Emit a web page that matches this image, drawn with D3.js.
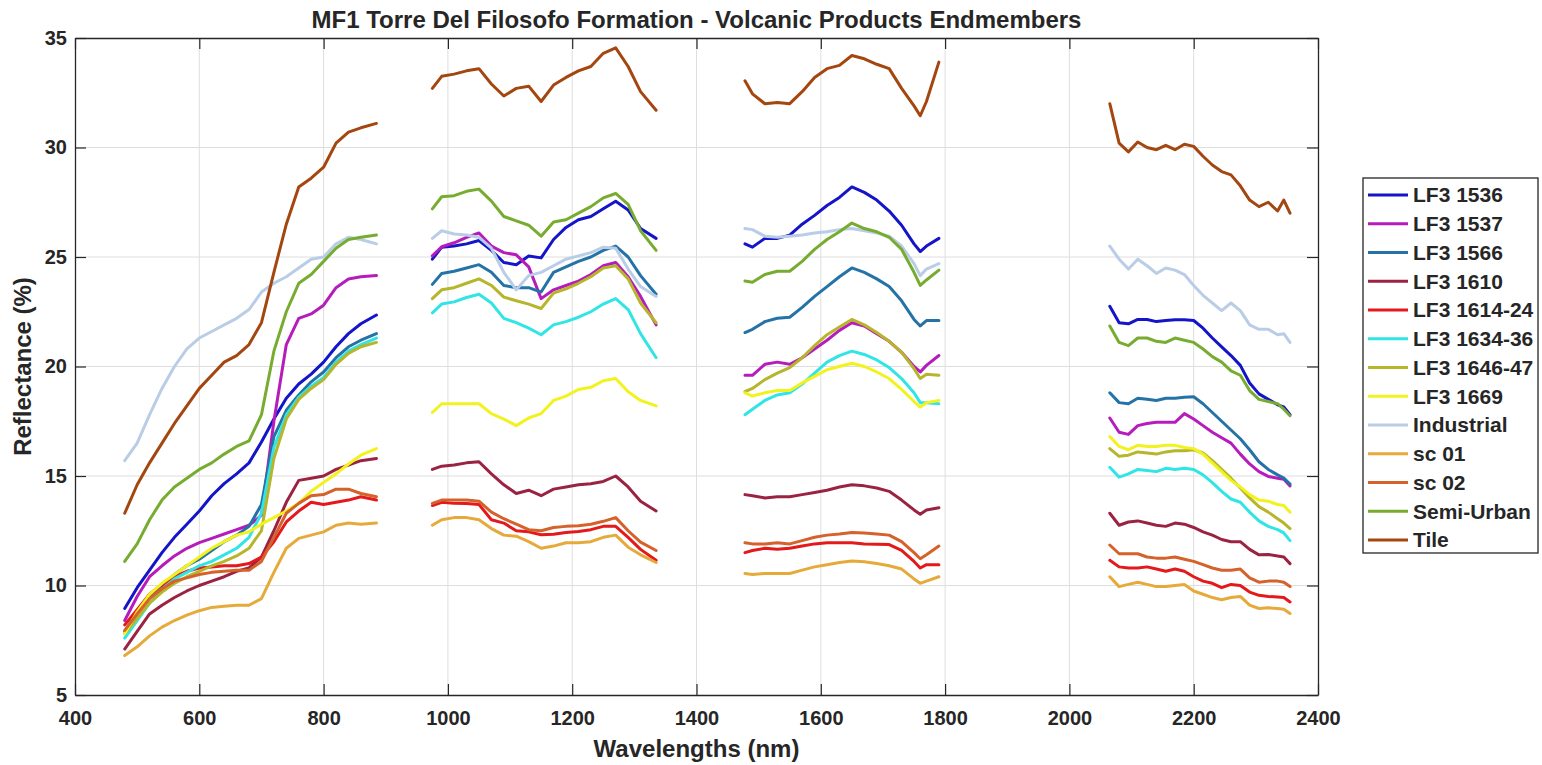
<!DOCTYPE html>
<html>
<head>
<meta charset="utf-8">
<script src="https://cdn.jsdelivr.net/npm/d3@7"></script>
<style>
  body { margin: 0; background: #fff; }
  text { font-family: "Liberation Sans", Arial, sans-serif; font-weight: bold; fill: #262626; }
</style>
</head>
<body>
<div id="chart"></div>
<script>
// wavelength samples of the four detector bands (nm)
const wl1 = [480,500,520,540,560,580,600,620,640,660,680,700,720,740,760,780,800,820,840,860,885];
const wl2 = [975,990,1010,1030,1050,1070,1090,1110,1130,1150,1170,1190,1210,1230,1250,1270,1290,1310,1335];
const wl3 = [1478,1490,1510,1530,1550,1570,1590,1610,1630,1650,1670,1690,1710,1730,1750,1760,1770,1790];
const wl4 = [2065,2080,2095,2110,2125,2140,2155,2170,2185,2200,2215,2230,2245,2260,2275,2290,2305,2320,2335,2345,2355];
const bands = [wl1, wl2, wl3, wl4];

// reflectance (%) per endmember, one array per band
const lf3_1536 = [
  [8.95,9.9,10.7,11.5,12.2,12.8,13.4,14.1,14.65,15.1,15.6,16.55,17.6,18.55,19.2,19.65,20.2,20.9,21.5,21.95,22.35],
  [24.9,25.45,25.5,25.6,25.75,25.3,24.75,24.65,25.05,24.96,25.8,26.35,26.7,26.85,27.2,27.55,27.15,26.3,25.85],
  [25.6,25.45,25.85,25.85,26.0,26.5,26.9,27.35,27.72,28.2,27.95,27.6,27.1,26.45,25.6,25.25,25.5,25.85],
  [22.75,22.0,21.95,22.15,22.15,22.05,22.1,22.14,22.14,22.1,21.75,21.3,20.9,20.5,20.05,19.25,18.75,18.5,18.25,18.15,17.8]
];
const lf3_1537 = [
  [8.4,9.5,10.4,10.9,11.35,11.7,11.96,12.15,12.35,12.55,12.75,13.2,17.5,21.0,22.2,22.4,22.8,23.6,24.0,24.1,24.15],
  [25.05,25.47,25.65,25.9,26.1,25.5,25.2,25.1,24.55,23.1,23.5,23.7,23.9,24.2,24.6,24.75,24.1,23.2,21.9],
  [19.6,19.6,20.1,20.2,20.1,20.4,20.8,21.2,21.65,22.0,21.85,21.5,21.15,20.65,20.0,19.75,20.05,20.5],
  [17.65,17.0,16.9,17.3,17.4,17.45,17.45,17.45,17.85,17.6,17.3,17.0,16.75,16.5,16.0,15.55,15.2,14.98,14.9,14.85,14.55]
];
const lf3_1566 = [
  [7.9,8.8,9.5,10.0,10.5,10.9,11.2,11.6,12.0,12.3,12.7,13.7,16.8,18.0,18.7,19.3,19.75,20.4,20.9,21.2,21.5],
  [23.75,24.25,24.35,24.5,24.65,24.3,23.7,23.6,23.6,23.4,24.3,24.55,24.8,25.0,25.3,25.5,25.0,24.15,23.3],
  [21.55,21.7,22.05,22.2,22.25,22.7,23.2,23.65,24.1,24.5,24.3,24.0,23.65,23.0,22.15,21.85,22.1,22.1],
  [18.8,18.35,18.3,18.55,18.5,18.45,18.55,18.55,18.6,18.62,18.3,17.9,17.5,17.1,16.7,16.2,15.65,15.3,15.05,14.9,14.63]
];
const lf3_1610 = [
  [7.1,7.9,8.7,9.1,9.45,9.75,10.0,10.2,10.4,10.65,10.8,11.3,12.5,13.8,14.8,14.9,15.0,15.3,15.5,15.7,15.8],
  [15.3,15.45,15.5,15.6,15.65,15.1,14.6,14.2,14.35,14.1,14.4,14.5,14.6,14.65,14.75,15.0,14.5,13.85,13.4],
  [14.15,14.1,14.0,14.05,14.05,14.15,14.25,14.35,14.5,14.6,14.55,14.45,14.3,13.9,13.45,13.25,13.45,13.55],
  [13.3,12.75,12.9,12.95,12.85,12.75,12.7,12.85,12.8,12.65,12.45,12.3,12.1,12.0,12.0,11.65,11.4,11.42,11.35,11.3,11.0]
];
const lf3_1614_24 = [
  [8.2,8.9,9.6,10.05,10.4,10.65,10.8,10.85,10.9,10.9,11.0,11.3,12.0,12.9,13.4,13.8,13.7,13.8,13.9,14.05,13.9],
  [13.65,13.8,13.75,13.74,13.7,13.0,12.85,12.5,12.45,12.32,12.34,12.42,12.47,12.55,12.7,12.7,12.2,11.65,11.15],
  [11.5,11.6,11.7,11.65,11.7,11.8,11.9,11.95,11.95,11.95,11.9,11.88,11.87,11.6,11.1,10.8,10.95,10.95],
  [11.15,10.85,10.8,10.8,10.85,10.75,10.65,10.75,10.65,10.4,10.2,10.1,9.9,10.05,10.0,9.7,9.55,9.5,9.47,9.45,9.25]
];
const lf3_1634_36 = [
  [7.6,8.4,9.2,9.8,10.3,10.6,10.9,11.1,11.4,11.7,12.2,13.3,16.3,17.8,18.6,19.1,19.5,20.2,20.7,21.0,21.3],
  [22.45,22.85,22.95,23.15,23.3,22.9,22.2,22.0,21.75,21.45,21.9,22.05,22.25,22.5,22.85,23.1,22.6,21.5,20.4],
  [17.8,18.05,18.45,18.7,18.8,19.2,19.7,20.2,20.5,20.7,20.55,20.3,19.95,19.45,18.8,18.35,18.35,18.3],
  [15.4,14.95,15.1,15.3,15.25,15.2,15.35,15.3,15.35,15.3,15.05,14.7,14.3,13.95,13.8,13.35,12.95,12.7,12.55,12.4,12.05]
];
const lf3_1646_47 = [
  [7.8,8.5,9.2,9.7,10.1,10.4,10.65,10.9,11.1,11.35,11.7,12.5,15.8,17.6,18.5,19.0,19.4,20.1,20.6,20.9,21.1],
  [23.1,23.5,23.6,23.8,24.0,23.7,23.17,23.0,22.85,22.65,23.35,23.55,23.8,24.1,24.5,24.6,24.0,22.9,22.0],
  [18.85,19.0,19.4,19.7,19.95,20.4,20.95,21.45,21.8,22.15,21.9,21.55,21.15,20.65,19.9,19.45,19.65,19.6],
  [16.25,15.9,15.95,16.1,16.05,16.0,16.1,16.15,16.15,16.2,16.05,15.7,15.3,14.9,14.45,14.0,13.6,13.35,13.05,12.85,12.6]
];
const lf3_1669 = [
  [7.8,8.8,9.6,10.1,10.5,10.9,11.3,11.7,12.0,12.3,12.45,12.8,13.1,13.4,13.75,14.3,14.7,15.1,15.55,15.95,16.25],
  [17.9,18.3,18.3,18.3,18.3,17.85,17.6,17.3,17.65,17.85,18.45,18.65,18.95,19.05,19.35,19.45,18.85,18.45,18.2],
  [18.8,18.65,18.8,18.9,18.9,19.25,19.55,19.85,20.0,20.15,20.0,19.75,19.45,18.95,18.4,18.15,18.35,18.45],
  [16.8,16.35,16.2,16.4,16.35,16.35,16.4,16.4,16.3,16.25,16.0,15.6,15.2,14.8,14.5,14.15,13.9,13.85,13.7,13.65,13.35]
];
const industrial = [
  [15.7,16.5,17.8,19.0,20.0,20.8,21.3,21.6,21.9,22.2,22.6,23.4,23.8,24.1,24.5,24.9,25.0,25.6,25.9,25.8,25.6],
  [25.85,26.2,26.05,26.0,25.9,25.4,24.3,23.5,24.15,24.3,24.6,24.9,25.05,25.2,25.45,25.4,24.45,23.65,23.2],
  [26.3,26.25,25.95,25.9,25.95,26.0,26.1,26.15,26.25,26.3,26.2,26.1,25.95,25.5,24.7,24.15,24.45,24.7],
  [25.5,24.9,24.45,24.9,24.6,24.25,24.5,24.4,24.2,23.7,23.25,22.9,22.55,22.9,22.55,21.9,21.7,21.7,21.45,21.5,21.1]
];
const sc01 = [
  [6.8,7.2,7.7,8.1,8.4,8.65,8.85,9.0,9.05,9.1,9.1,9.4,10.6,11.7,12.15,12.3,12.45,12.75,12.85,12.8,12.85],
  [12.75,13.0,13.1,13.1,13.0,12.6,12.3,12.25,12.0,11.7,11.8,11.95,11.95,12.0,12.2,12.3,11.75,11.4,11.05],
  [10.55,10.5,10.55,10.55,10.55,10.7,10.85,10.95,11.05,11.12,11.08,11.0,10.9,10.75,10.3,10.1,10.2,10.4],
  [10.4,9.95,10.05,10.15,10.05,9.95,9.95,10.0,10.05,9.75,9.6,9.45,9.35,9.45,9.5,9.1,8.95,8.98,8.95,8.92,8.72]
];
const sc02 = [
  [7.95,8.7,9.4,9.85,10.2,10.35,10.5,10.6,10.65,10.7,10.7,11.1,12.2,13.3,13.75,14.1,14.15,14.4,14.4,14.2,14.05],
  [13.75,13.9,13.9,13.9,13.85,13.35,13.05,12.8,12.55,12.5,12.65,12.7,12.73,12.8,12.93,13.1,12.5,11.98,11.6],
  [11.95,11.9,11.9,11.95,11.9,12.05,12.2,12.3,12.35,12.42,12.4,12.35,12.3,12.0,11.5,11.22,11.4,11.8],
  [11.85,11.45,11.45,11.45,11.3,11.25,11.25,11.3,11.2,11.1,10.95,10.8,10.7,10.7,10.75,10.35,10.15,10.2,10.2,10.15,9.95]
];
const semiUrban = [
  [11.1,11.9,13.0,13.9,14.5,14.9,15.3,15.6,16.0,16.35,16.6,17.8,20.7,22.5,23.8,24.2,24.8,25.4,25.8,25.9,26.0],
  [27.2,27.75,27.8,28.0,28.1,27.55,26.85,26.65,26.45,25.95,26.6,26.7,27.0,27.3,27.7,27.9,27.4,26.2,25.3],
  [23.9,23.85,24.2,24.35,24.35,24.8,25.35,25.8,26.15,26.55,26.3,26.15,25.9,25.35,24.3,23.7,23.95,24.4],
  [21.85,21.1,20.95,21.3,21.3,21.15,21.1,21.3,21.2,21.1,20.8,20.45,20.2,19.8,19.6,18.9,18.5,18.4,18.3,18.05,17.75]
];
const tile = [
  [13.3,14.6,15.6,16.5,17.4,18.2,19.0,19.6,20.2,20.5,21.0,22.0,24.3,26.5,28.2,28.6,29.1,30.2,30.7,30.9,31.1],
  [32.7,33.25,33.35,33.5,33.6,32.9,32.35,32.7,32.8,32.1,32.85,33.2,33.5,33.7,34.3,34.55,33.7,32.55,31.7],
  [33.05,32.45,32.0,32.05,32.0,32.55,33.2,33.6,33.75,34.2,34.05,33.8,33.6,32.7,31.9,31.45,32.1,33.9],
  [32.0,30.2,29.8,30.25,30.0,29.9,30.1,29.9,30.15,30.05,29.6,29.2,28.9,28.75,28.25,27.6,27.3,27.5,27.1,27.6,27.0]
];

const names = ["LF3 1536", "LF3 1537", "LF3 1566", "LF3 1610", "LF3 1614-24", "LF3 1634-36",
  "LF3 1646-47", "LF3 1669", "Industrial", "sc 01", "sc 02", "Semi-Urban", "Tile"];
const values = [lf3_1536, lf3_1537, lf3_1566, lf3_1610, lf3_1614_24, lf3_1634_36,
  lf3_1646_47, lf3_1669, industrial, sc01, sc02, semiUrban, tile];
const colors = ["#1414c8", "#b51cbb", "#2472a6", "#9b2342", "#e3191b", "#31e4e6",
  "#b6b52b", "#f2f21f", "#b9cde6", "#e6aa3b", "#d5612b", "#77ac30", "#a4460f"];

const xTicks = d3.range(400, 2401, 200);
const yTicks = d3.range(5, 36, 5);

const width = 1542, height = 765;
const margin = { top: 38, right: 224, bottom: 70, left: 75 };
const plotW = width - margin.left - margin.right;
const plotH = height - margin.top - margin.bottom;

const svg = d3.select("#chart").append("svg")
  .attr("width", width)
  .attr("height", height);

const x = d3.scaleLinear().domain([400, 2400]).range([margin.left, margin.left + plotW]);
const y = d3.scaleLinear().domain([5, 35]).range([margin.top + plotH, margin.top]);

// grid
svg.append("g")
  .selectAll("line")
  .data(xTicks.slice(1, -1))
  .enter().append("line")
  .attr("x1", d => x(d)).attr("x2", d => x(d))
  .attr("y1", y(5)).attr("y2", y(35))
  .attr("stroke", "#dedede").attr("stroke-width", 1);
svg.append("g")
  .selectAll("line")
  .data(yTicks.slice(1, -1))
  .enter().append("line")
  .attr("x1", x(400)).attr("x2", x(2400))
  .attr("y1", d => y(d)).attr("y2", d => y(d))
  .attr("stroke", "#dedede").attr("stroke-width", 1);

// spectra, one path per band so gaps stay open
const line = d3.line().x(d => x(d[0])).y(d => y(d[1]));
values.forEach((series, i) => {
  series.forEach((seg, b) => {
    svg.append("path")
      .datum(bands[b].map((w, k) => [w, seg[k]]))
      .attr("d", line)
      .attr("fill", "none")
      .attr("stroke", colors[i])
      .attr("stroke-width", 3)
      .attr("stroke-linejoin", "round")
      .attr("stroke-linecap", "round");
  });
});

// axes (MATLAB style: ticks inside, box on)
const tickLen = 11;
const axisColor = "#262626";
const xAxis = svg.append("g")
  .attr("transform", `translate(0,${y(5)})`)
  .call(d3.axisBottom(x).tickValues(xTicks).tickFormat(d3.format("d"))
    .tickSizeInner(-tickLen).tickSizeOuter(0).tickPadding(16));
svg.append("g")
  .attr("transform", `translate(${x(400)},0)`)
  .call(d3.axisLeft(y).tickValues(yTicks).tickFormat(d3.format("d"))
    .tickSizeInner(-tickLen).tickSizeOuter(0).tickPadding(8));
svg.append("g")
  .attr("transform", `translate(0,${y(35)})`)
  .call(d3.axisTop(x).tickValues(xTicks).tickSizeInner(-tickLen).tickSizeOuter(0).tickFormat(""));
svg.append("g")
  .attr("transform", `translate(${x(2400)},0)`)
  .call(d3.axisRight(y).tickValues(yTicks).tickSizeInner(-tickLen).tickSizeOuter(0).tickFormat(""));

svg.selectAll(".domain").attr("stroke", axisColor).attr("stroke-width", 1.3);
svg.selectAll(".tick line").attr("stroke", axisColor).attr("stroke-width", 1.2);
svg.selectAll(".tick text")
  .style("font-family", "'Liberation Sans', Arial, sans-serif")
  .style("font-weight", "bold")
  .style("font-size", "20px")
  .attr("fill", axisColor);
xAxis.selectAll(".tick text").attr("dy", "0.71em");

// titles
svg.append("text")
  .attr("x", (x(400) + x(2400)) / 2).attr("y", 28)
  .attr("text-anchor", "middle")
  .style("font-size", "24px")
  .text("MF1 Torre Del Filosofo Formation - Volcanic Products Endmembers");
svg.append("text")
  .attr("x", (x(400) + x(2400)) / 2).attr("y", 757)
  .attr("text-anchor", "middle")
  .style("font-size", "24px")
  .text("Wavelengths (nm)");
svg.append("text")
  .attr("transform", `translate(31,${(y(5) + y(35)) / 2}) rotate(-90)`)
  .attr("text-anchor", "middle")
  .style("font-size", "24px")
  .text("Reflectance (%)");

// legend
const lgX = 1363, lgY = 178, lgW = 175, lgH = 375, rowH = 28.75;
const legend = svg.append("g");
legend.append("rect")
  .attr("x", lgX).attr("y", lgY).attr("width", lgW).attr("height", lgH)
  .attr("fill", "#fff").attr("stroke", "#262626").attr("stroke-width", 1.3);
names.forEach((name, i) => {
  const cy = lgY + 17 + i * rowH;
  legend.append("line")
    .attr("x1", lgX + 5).attr("x2", lgX + 45)
    .attr("y1", cy).attr("y2", cy)
    .attr("stroke", colors[i]).attr("stroke-width", 3);
  legend.append("text")
    .attr("x", lgX + 50).attr("y", cy)
    .attr("dy", "0.35em")
    .style("font-size", "21px")
    .text(name);
});
</script>
</body>
</html>
